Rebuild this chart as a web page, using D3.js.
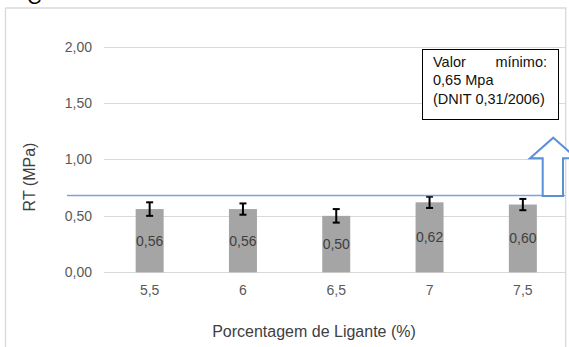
<!DOCTYPE html>
<html><head><meta charset="utf-8">
<script src="https://cdn.jsdelivr.net/npm/d3@7"></script>
<style>body{margin:0;background:#fff}svg{display:block}text{font-family:"Liberation Sans",Arial,sans-serif}</style>
</head><body>
<svg id="c" width="569" height="347"></svg>
<script>
const categories = ["5,5","6","6,5","7","7,5"];
const values = [0.56, 0.56, 0.50, 0.62, 0.60];
const errors = [0.06, 0.05, 0.06, 0.05, 0.05];
const yTicks = [0, 0.5, 1.0, 1.5, 2.0];
const thresholdDrawn = 0.68;
const noteLines = ["0,65 Mpa", "(DNIT 0,31/2006)"];
const yTitle = "RT (MPa)";
const xTitle = "Porcentagem de Ligante (%)";

const svg = d3.select("#c");
const fmt = v => d3.format(".2f")(v).replace(".", ",");
const x = d3.scaleBand().domain(categories).range([103, 569.5]).paddingInner(0.7).paddingOuter(0.35);
const y = d3.scaleLinear().domain([0, 2]).range([272.3, 46.5]);

// stray glyph from page above (clipped in reference too)
svg.append("text").attr("x", 27).attr("y", 4).attr("font-family", "Liberation Serif").attr("font-size", 20).attr("fill", "#000").text("C");

// outer chart border
svg.append("path").attr("d", "M5.5,347 V8 H565.7 V347").attr("fill", "none").attr("stroke", "#d9d9d9").attr("stroke-width", 1.3);

// gridlines
svg.append("g").selectAll("line").data(yTicks).join("line")
  .attr("x1", 104).attr("x2", 565).attr("y1", d => Math.round(y(d)) + 0.5).attr("y2", d => Math.round(y(d)) + 0.5)
  .attr("stroke", "#d9d9d9").attr("stroke-width", 1);

// y tick labels
svg.append("g").selectAll("text").data(yTicks).join("text")
  .attr("x", 92).attr("y", d => y(d) + 5).attr("text-anchor", "end")
  .attr("font-size", 14).attr("fill", "#595959").text(fmt);

// bars
svg.append("g").selectAll("rect").data(values).join("rect")
  .attr("x", (d, i) => x(categories[i])).attr("width", x.bandwidth())
  .attr("y", d => y(d)).attr("height", d => y(0) - y(d)).attr("fill", "#a5a5a5");

// bar labels
svg.append("g").selectAll("text").data(values).join("text")
  .attr("x", (d, i) => x(categories[i]) + x.bandwidth() / 2)
  .attr("y", d => (y(d) + y(0)) / 2 + 5).attr("text-anchor", "middle")
  .attr("font-size", 14).attr("fill", "#404040").text(fmt);

// error bars
const eg = svg.append("g").attr("stroke", "#000").attr("stroke-width", 2);
values.forEach((v, i) => {
  const cx = x(categories[i]) + x.bandwidth() / 2;
  const t = y(v + errors[i]), b = y(v - errors[i]);
  eg.append("line").attr("x1", cx).attr("x2", cx).attr("y1", t).attr("y2", b);
  eg.append("line").attr("x1", cx - 3.5).attr("x2", cx + 3.5).attr("y1", t).attr("y2", t);
  eg.append("line").attr("x1", cx - 3.5).attr("x2", cx + 3.5).attr("y1", b).attr("y2", b);
});

// x tick labels
svg.append("g").selectAll("text").data(categories).join("text")
  .attr("x", d => x(d) + x.bandwidth() / 2).attr("y", 295).attr("text-anchor", "middle")
  .attr("font-size", 14).attr("fill", "#595959").text(d => d);

// threshold line
svg.append("line").attr("x1", 67).attr("x2", 565).attr("y1", y(thresholdDrawn)).attr("y2", y(thresholdDrawn))
  .attr("stroke", "#7ba5d9").attr("stroke-width", 1.5);

// axis titles
svg.append("text").attr("x", 314).attr("y", 337).attr("text-anchor", "middle")
  .attr("font-size", 16).attr("fill", "#404040").text(xTitle);
svg.append("text").attr("transform", "translate(35,177) rotate(-90)").attr("text-anchor", "middle")
  .attr("font-size", 16).attr("fill", "#404040").text(yTitle);

// annotation box
svg.append("rect").attr("x", 422.5).attr("y", 49.5).attr("width", 136).attr("height", 70)
  .attr("fill", "#fff").attr("stroke", "#000").attr("stroke-width", 1);
svg.append("text").attr("x", 433).attr("y", 67).attr("font-size", 14.5).attr("fill", "#111").text("Valor");
svg.append("text").attr("x", 547).attr("y", 67).attr("text-anchor", "end").attr("font-size", 14.5).attr("fill", "#111").text("mínimo:");
noteLines.forEach((t, i) => {
  svg.append("text").attr("x", 433).attr("y", 85 + i * 18.5).attr("font-size", 14.5).attr("fill", "#111").text(t);
});

// hollow up arrow
svg.append("path")
  .attr("d", "M553.3,137.7 L576.6,158.3 L563,158.3 L563,196 L542.7,196 L542.7,158.3 L530,158.3 Z")
  .attr("fill", "#fff").attr("stroke", "#5b8fd6").attr("stroke-width", 2).attr("stroke-linejoin", "miter");
</script>
</body></html>
